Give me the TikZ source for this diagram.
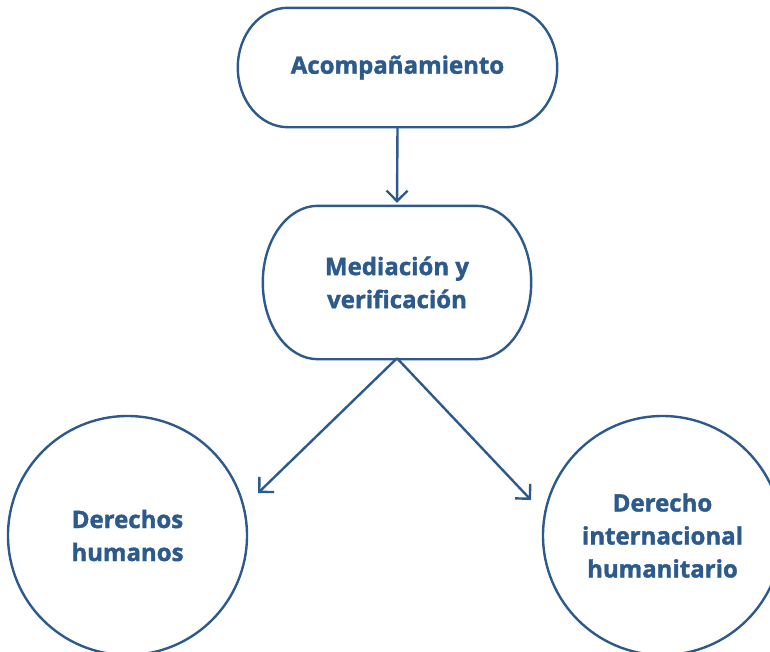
\documentclass[tikz,border=0pt]{standalone}
\usepackage{fontspec}
\setmainfont{Open Sans}[BoldFeatures={FakeBold=1.6}]
\usetikzlibrary{arrows.meta,calc}

\definecolor{navy}{RGB}{44,90,140}

% outline with elliptic corners round a node: #1 node, #2 x radius, #3 y radius
\newcommand\pillframe[3]{%
  \draw[frameline] ($(#1.north west)+(#2,0)$) -- ($(#1.north east)+(-#2,0)$)
    .. controls ($(#1.north east)+(-0.4477*#2,0)$) and ($(#1.north east)+(0,0.4477*#3)$) .. ($(#1.north east)+(0,#3)$)
    -- ($(#1.south east)+(0,-#3)$)
    .. controls ($(#1.south east)+(0,-0.4477*#3)$) and ($(#1.south east)+(-0.4477*#2,0)$) .. ($(#1.south east)+(-#2,0)$)
    -- ($(#1.south west)+(#2,0)$)
    .. controls ($(#1.south west)+(0.4477*#2,0)$) and ($(#1.south west)+(0,-0.4477*#3)$) .. ($(#1.south west)+(0,-#3)$)
    -- ($(#1.north west)+(0,#3)$)
    .. controls ($(#1.north west)+(0,0.4477*#3)$) and ($(#1.north west)+(0.4477*#2,0)$) .. ($(#1.north west)+(#2,0)$)
    -- cycle;}

\tikzset{
  frameline/.style={draw=navy, line width=2.4pt},
  label text/.style={text=navy, font=\fontsize{24}{33}\selectfont\bfseries, align=center},
  pill/.style={label text, draw=none, inner sep=0pt},
  bubble/.style={label text, circle, frameline, minimum size=239pt, inner sep=0pt},
  link/.style={navy, line width=2.4pt, -{Straight Barb[length=10.5pt,width=21pt,line width=2.4pt]}}
}

\begin{document}
\begin{tikzpicture}[x=1pt,y=1pt,yscale=-1,xscale=1]
		% Set diagram to the size of the reference
		\useasboundingbox (0,0) rectangle (770,651);
		\clip (0,0) rectangle (770,651);

		% Top box
		\node[pill, minimum width=319pt, minimum height=119pt] (acomp) at (397.5,67.5) {Acompañamiento};
		\pillframe{acomp}{50}{59.5}

		% Middle box
		\node[pill, minimum width=268pt, minimum height=153pt] (mediacion) at (397,282.5) {Mediación y\\verificación};
		\pillframe{mediacion}{55}{76.5}

		% The two circles at the bottom (cut by the border)
		\node[bubble] (dh) at (127.5,535.5) {Derechos\\humanos};
		\node[bubble] (dih) at (662.5,535.5) {Derecho\\internacional\\humanitario};

		% Free ends of the arrows
		\coordinate (medtip) at ($(mediacion.north)+(0,-3)$);
		\coordinate (dhtip) at (258,493);
		\coordinate (dihtip) at (531,500);

		% Arrows
		\draw[link] (acomp.south) -- (medtip);
		\draw[link] ([yshift=-1pt]mediacion.south) -- (dhtip);
		\draw[link] ([yshift=-1pt]mediacion.south) -- (dihtip);
	\end{tikzpicture}
\end{document}
